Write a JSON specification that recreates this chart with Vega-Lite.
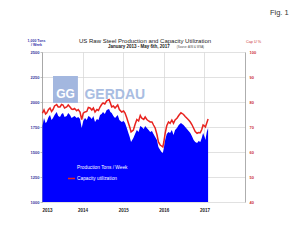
{
  "$schema": "https://vega.github.io/schema/vega-lite/v6.json",
  "width": 203,
  "height": 150,
  "autosize": {"type": "none"},
  "padding": {"left": 42, "top": 52, "right": 55, "bottom": 39},
  "background": "white",
  "config": {"font": "Liberation Sans", "view": {"stroke": null}},
  "data": {"values": [
    {"date": "2013-01-05", "prod": 1760, "cap": 75.5},
    {"date": "2013-01-19", "prod": 1840, "cap": 76.8},
    {"date": "2013-02-02", "prod": 1790, "cap": 75.2},
    {"date": "2013-02-12", "prod": 1800, "cap": 75.6},
    {"date": "2013-03-01", "prod": 1850, "cap": 77},
    {"date": "2013-03-14", "prod": 1870, "cap": 77.6},
    {"date": "2013-03-28", "prod": 1820, "cap": 76.2},
    {"date": "2013-04-10", "prod": 1840, "cap": 77},
    {"date": "2013-04-24", "prod": 1870, "cap": 78.4},
    {"date": "2013-05-13", "prod": 1900, "cap": 79},
    {"date": "2013-05-27", "prod": 1860, "cap": 78},
    {"date": "2013-06-12", "prod": 1850, "cap": 78},
    {"date": "2013-06-26", "prod": 1880, "cap": 79},
    {"date": "2013-07-09", "prod": 1890, "cap": 78.8},
    {"date": "2013-07-23", "prod": 1850, "cap": 77.6},
    {"date": "2013-08-11", "prod": 1860, "cap": 78},
    {"date": "2013-08-25", "prod": 1890, "cap": 78.8},
    {"date": "2013-09-10", "prod": 1870, "cap": 78},
    {"date": "2013-09-24", "prod": 1840, "cap": 77.2},
    {"date": "2013-10-07", "prod": 1850, "cap": 77},
    {"date": "2013-10-21", "prod": 1860, "cap": 77.4},
    {"date": "2013-11-09", "prod": 1840, "cap": 76.5},
    {"date": "2013-11-23", "prod": 1850, "cap": 77},
    {"date": "2013-12-09", "prod": 1830, "cap": 76},
    {"date": "2013-12-24", "prod": 1740, "cap": 73},
    {"date": "2014-01-07", "prod": 1810, "cap": 75.5},
    {"date": "2014-01-23", "prod": 1840, "cap": 76},
    {"date": "2014-02-08", "prod": 1820, "cap": 76.2},
    {"date": "2014-02-22", "prod": 1860, "cap": 77.8},
    {"date": "2014-03-09", "prod": 1850, "cap": 77.6},
    {"date": "2014-03-25", "prod": 1830, "cap": 76.8},
    {"date": "2014-04-08", "prod": 1860, "cap": 77.6},
    {"date": "2014-04-23", "prod": 1800, "cap": 76},
    {"date": "2014-05-10", "prod": 1830, "cap": 77},
    {"date": "2014-05-24", "prod": 1820, "cap": 76.6},
    {"date": "2014-06-07", "prod": 1870, "cap": 78},
    {"date": "2014-06-21", "prod": 1880, "cap": 79},
    {"date": "2014-07-04", "prod": 1900, "cap": 79.6},
    {"date": "2014-07-20", "prod": 1880, "cap": 79.2},
    {"date": "2014-08-06", "prod": 1920, "cap": 80.5},
    {"date": "2014-08-27", "prod": 1930, "cap": 81},
    {"date": "2014-09-08", "prod": 1900, "cap": 79.6},
    {"date": "2014-09-20", "prod": 1890, "cap": 78},
    {"date": "2014-10-05", "prod": 1860, "cap": 78.4},
    {"date": "2014-10-20", "prod": 1840, "cap": 77.6},
    {"date": "2014-11-13", "prod": 1870, "cap": 78.8},
    {"date": "2014-11-28", "prod": 1820, "cap": 77},
    {"date": "2014-12-19", "prod": 1800, "cap": 76},
    {"date": "2015-01-05", "prod": 1810, "cap": 76.4},
    {"date": "2015-01-18", "prod": 1790, "cap": 75.6},
    {"date": "2015-02-03", "prod": 1740, "cap": 73.6},
    {"date": "2015-02-17", "prod": 1690, "cap": 71.6},
    {"date": "2015-03-01", "prod": 1650, "cap": 70},
    {"date": "2015-03-13", "prod": 1600, "cap": 68},
    {"date": "2015-04-03", "prod": 1640, "cap": 68.8},
    {"date": "2015-04-18", "prod": 1680, "cap": 71},
    {"date": "2015-05-04", "prod": 1720, "cap": 73},
    {"date": "2015-05-20", "prod": 1700, "cap": 72.4},
    {"date": "2015-06-04", "prod": 1760, "cap": 74.6},
    {"date": "2015-06-18", "prod": 1750, "cap": 73.5},
    {"date": "2015-07-05", "prod": 1730, "cap": 73},
    {"date": "2015-07-18", "prod": 1760, "cap": 74},
    {"date": "2015-08-02", "prod": 1740, "cap": 73},
    {"date": "2015-08-18", "prod": 1720, "cap": 72.4},
    {"date": "2015-09-01", "prod": 1700, "cap": 72},
    {"date": "2015-09-17", "prod": 1710, "cap": 72},
    {"date": "2015-10-01", "prod": 1680, "cap": 70.8},
    {"date": "2015-10-16", "prod": 1650, "cap": 69.6},
    {"date": "2015-11-01", "prod": 1620, "cap": 67},
    {"date": "2015-11-14", "prod": 1550, "cap": 64},
    {"date": "2015-11-30", "prod": 1520, "cap": 62.8},
    {"date": "2015-12-12", "prod": 1500, "cap": 62.4},
    {"date": "2015-12-24", "prod": 1490, "cap": 62},
    {"date": "2016-01-02", "prod": 1540, "cap": 64},
    {"date": "2016-01-14", "prod": 1620, "cap": 67.5},
    {"date": "2016-01-28", "prod": 1680, "cap": 70.5},
    {"date": "2016-02-13", "prod": 1700, "cap": 72},
    {"date": "2016-02-27", "prod": 1690, "cap": 71.5},
    {"date": "2016-03-14", "prod": 1720, "cap": 72.8},
    {"date": "2016-03-29", "prod": 1670, "cap": 71.5},
    {"date": "2016-04-12", "prod": 1720, "cap": 72.8},
    {"date": "2016-04-29", "prod": 1740, "cap": 73.5},
    {"date": "2016-05-15", "prod": 1770, "cap": 74.6},
    {"date": "2016-06-04", "prod": 1790, "cap": 75.7},
    {"date": "2016-06-15", "prod": 1780, "cap": 75.4},
    {"date": "2016-06-27", "prod": 1770, "cap": 75},
    {"date": "2016-07-12", "prod": 1750, "cap": 74.2},
    {"date": "2016-07-28", "prod": 1730, "cap": 73.5},
    {"date": "2016-08-12", "prod": 1710, "cap": 72.8},
    {"date": "2016-08-27", "prod": 1690, "cap": 72},
    {"date": "2016-09-10", "prod": 1660, "cap": 71},
    {"date": "2016-09-26", "prod": 1620, "cap": 69.5},
    {"date": "2016-10-10", "prod": 1600, "cap": 68.2},
    {"date": "2016-10-27", "prod": 1590, "cap": 67.5},
    {"date": "2016-11-10", "prod": 1610, "cap": 67.8},
    {"date": "2016-11-25", "prod": 1600, "cap": 67.7},
    {"date": "2016-12-08", "prod": 1640, "cap": 69},
    {"date": "2016-12-20", "prod": 1690, "cap": 70.8},
    {"date": "2017-01-03", "prod": 1650, "cap": 70.4},
    {"date": "2017-01-10", "prod": 1620, "cap": 70},
    {"date": "2017-01-22", "prod": 1700, "cap": 71.6},
    {"date": "2017-02-03", "prod": 1740, "cap": 73.2}
  ]},
  "layer": [
    {
      "layer": [
        {
          "mark": {"type": "area", "color": "#0000ff", "opacity": 1},
          "encoding": {
            "x": {"field": "date", "type": "temporal",
              "scale": {"domain": [{"year": 2013, "month": 1, "date": 1}, {"year": 2018, "month": 1, "date": 1}]},
              "axis": {"values": [{"year": 2013, "month": 1, "date": 1}, {"year": 2014, "month": 1, "date": 1}, {"year": 2015, "month": 1, "date": 1}, {"year": 2016, "month": 1, "date": 1}, {"year": 2017, "month": 1, "date": 1}],
                "format": "%Y", "title": null, "grid": true, "gridColor": "#d4d4d4", "gridWidth": 0.7, "domain": false, "ticks": false,
                "labelFlush": true, "labelFontSize": 4.5, "labelFontWeight": "bold", "labelColor": "#222222", "labelPadding": 5}},
            "y": {"field": "prod", "type": "quantitative",
              "scale": {"domain": [1000, 2500], "zero": false, "nice": false},
              "axis": {"values": [1000, 1250, 1500, 1750, 2000, 2250, 2500], "tickCount": 7, "labelOverlap": false, "format": "d", "grid": true, "gridColor": "#d4d4d4", "gridWidth": 0.7,
                "domainColor": "#999999", "domainWidth": 0.8, "tickSize": 2, "tickColor": "#999999", "tickWidth": 0.6,
                "labelFontSize": 4, "labelFontWeight": "bold", "labelColor": "#34349c", "labelPadding": 1,
                "title": ["1,000 Tons", "/ Week"], "titleAngle": 0, "titleX": -6, "titleY": -11, "titleAlign": "center", "titleBaseline": "alphabetic",
                "titleFontSize": 3.5, "titleLineHeight": 4, "titleColor": "#3333aa", "titleFontWeight": "bold"}},
            "y2": {"datum": 1000},
            "color": {"datum": "Production Tons / Week", "type": "nominal",
              "scale": {"domain": ["Production Tons / Week", "Capacity utilization"], "range": ["#0000ff", "#e8231f"]},
              "legend": {"orient": "none", "legendX": 25, "legendY": 111, "title": null, "symbolType": "stroke", "symbolSize": 49,
                "symbolStrokeWidth": 1.5, "labelColor": "white", "labelFontSize": 4.8, "labelOffset": 1, "rowPadding": 3, "padding": 0}}
          }
        },
        {
          "data": {"values": [{}]},
          "mark": {"type": "rect", "color": "#a3b7df"},
          "encoding": {
            "x": {"datum": {"year": 2013, "month": 4, "date": 10}, "type": "temporal"},
            "x2": {"datum": {"year": 2013, "month": 11, "date": 20}},
            "y": {"datum": 2260, "type": "quantitative", "scale": {"domain": [1000, 2500], "zero": false, "nice": false}},
            "y2": {"datum": 1990}
          }
        },
        {
          "data": {"values": [{}]},
          "mark": {"type": "text", "color": "white", "fontSize": 12, "fontWeight": "bold", "align": "center", "baseline": "alphabetic", "text": "GG"},
          "encoding": {
            "x": {"datum": {"year": 2013, "month": 7, "date": 31}, "type": "temporal"},
            "y": {"datum": 2040, "type": "quantitative", "scale": {"domain": [1000, 2500], "zero": false, "nice": false}}
          }
        },
        {
          "data": {"values": [{}]},
          "mark": {"type": "text", "color": "#a9bde2", "fontSize": 14, "fontWeight": "bold", "align": "left", "baseline": "alphabetic", "text": "GERDAU"},
          "encoding": {
            "x": {"datum": {"year": 2014, "month": 1, "date": 18}, "type": "temporal"},
            "y": {"datum": 2030, "type": "quantitative", "scale": {"domain": [1000, 2500], "zero": false, "nice": false}}
          }
        },
        {
          "data": {"values": [{}]},
          "mark": {"type": "text", "color": "#222222", "fontSize": 6, "align": "center", "baseline": "alphabetic", "text": "US Raw Steel Production and Capacity Utilization"},
          "encoding": {
            "x": {"datum": {"year": 2015, "month": 7, "date": 17}, "type": "temporal"},
            "y": {"datum": 2590, "type": "quantitative", "scale": {"domain": [1000, 2500], "zero": false, "nice": false}}
          }
        },
        {
          "data": {"values": [{}]},
          "mark": {"type": "text", "color": "#222222", "fontSize": 4.5, "fontWeight": "bold", "align": "center", "baseline": "alphabetic", "text": "January 2013 - May 6th, 2017"},
          "encoding": {
            "x": {"datum": {"year": 2015, "month": 5, "date": 22}, "type": "temporal"},
            "y": {"datum": 2545, "type": "quantitative", "scale": {"domain": [1000, 2500], "zero": false, "nice": false}}
          }
        },
        {
          "data": {"values": [{}]},
          "mark": {"type": "text", "color": "#444444", "fontSize": 2.8, "align": "left", "baseline": "alphabetic", "text": "(Source: AISI & WSA)"},
          "encoding": {
            "x": {"datum": {"year": 2016, "month": 4, "date": 28}, "type": "temporal"},
            "y": {"datum": 2545, "type": "quantitative", "scale": {"domain": [1000, 2500], "zero": false, "nice": false}}
          }
        },
        {
          "data": {"values": [{}]},
          "mark": {"type": "text", "color": "#333333", "fontSize": 7.5, "align": "left", "baseline": "alphabetic", "text": "Fig. 1"},
          "encoding": {
            "x": {"datum": {"year": 2018, "month": 8, "date": 13}, "type": "temporal"},
            "y": {"datum": 2870, "type": "quantitative", "scale": {"domain": [1000, 2500], "zero": false, "nice": false}}
          }
        }
      ]
    },
    {
      "mark": {"type": "line", "strokeWidth": 1.5},
      "encoding": {
        "x": {"field": "date", "type": "temporal"},
        "y": {"field": "cap", "type": "quantitative",
          "scale": {"domain": [40, 100], "zero": false, "nice": false},
          "axis": {"orient": "right", "values": [40, 50, 60, 70, 80, 90, 100], "labelOverlap": false, "grid": false,
            "domainColor": "#999999", "domainWidth": 0.8, "tickSize": 0,
            "labelFontSize": 4, "labelFontWeight": "bold", "labelColor": "#cc3333", "labelPadding": 4,
            "title": "Cap U %", "titleAngle": 0, "titleX": 8, "titleY": -10, "titleAlign": "center", "titleBaseline": "alphabetic",
            "titleFontSize": 3.8, "titleColor": "#cc3333", "titleFontWeight": "normal"}},
        "color": {"datum": "Capacity utilization", "type": "nominal"}
      }
    }
  ],
  "resolve": {"scale": {"y": "independent"}}
}
